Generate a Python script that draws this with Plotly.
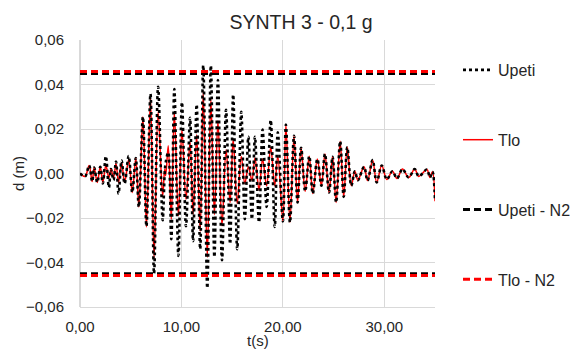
import plotly.graph_objects as go

# time (s) of read extrema
t = [0.0, 0.5, 0.9, 1.2, 1.4, 1.7, 2.0, 2.25, 2.55, 2.85, 3.05, 3.3, 3.55, 3.8, 4.1, 4.4,
     4.8, 5.15, 5.5, 5.8, 6.2, 6.55, 6.95, 7.3, 7.7, 8.15, 8.35, 8.45, 8.7, 9.0, 9.3,
     9.7, 10.05, 10.45, 10.85, 11.15, 11.5, 11.85, 12.15, 12.55, 12.9, 13.25, 13.6,
     14.0, 14.4, 14.8, 15.1, 15.5, 15.9, 16.25, 16.6, 16.95, 17.25, 17.65, 18.0, 18.4,
     18.8, 19.2, 19.5, 20.0, 20.3, 20.7, 21.1, 21.45, 21.8, 22.2, 22.6, 22.95, 23.4,
     23.8, 24.15, 24.55, 24.9, 25.25, 25.65, 26.0, 26.35, 26.75, 27.1, 27.4, 28.0,
     28.35, 28.85, 29.25, 29.75, 30.25, 30.8, 31.25, 31.8, 32.4, 33.0, 33.4, 34.2,
     34.5, 34.75, 35.0]

tlo = [0, -0.0013, 0.0036, -0.0036, 0.0027, -0.004, 0.003, -0.004, 0.0036, -0.002,
       0.002, -0.002, 0.0045, -0.004, 0.005, -0.004, 0.0063, -0.0085, 0.007, -0.015,
       0.0255, -0.024, 0.034, -0.038, 0.0277, -0.0103, 0.002, -0.001, 0.0125, -0.0206,
       0.0277, -0.019, 0.0197, -0.0116, 0.0143, -0.0183, 0.0174, -0.026, 0.0367,
       -0.0376, 0.0335, -0.0185, 0.0237, -0.0235, 0.0107, -0.013, 0.0155, -0.0135,
       0.0076, -0.0045, 0.003, -0.003, 0.007, -0.0075, 0.0065, -0.0055, 0.0118, -0.0055,
       0.008, -0.0215, 0.022, -0.022, 0.017, -0.013, 0.0116, -0.008, 0.0078, -0.009,
       0.0065, -0.0055, 0.0088, -0.0085, 0.0075, -0.013, 0.0145, -0.0105, 0.0118,
       -0.0055, 0.001, -0.003, 0.003, -0.0032, 0.006, -0.004, 0.0036, -0.0027, 0.001,
       -0.0022, 0.002, -0.0018, 0.002, -0.0013, 0.0018, -0.0018, 0.0008, -0.0125]

upeti = [0, -0.0013, 0.0036, -0.0036, 0.0027, -0.004, 0.003, -0.0045, 0.0078, -0.0063,
         0.002, -0.003, 0.0054, -0.009, 0.0058, -0.0045, 0.0078, -0.0085, 0.007, -0.015,
         0.0255, -0.0237, 0.0358, -0.045, 0.039, -0.021, 0.0, 0.005, 0.0095, -0.0295,
         0.038, -0.037, 0.032, -0.0237, 0.025, -0.0304, 0.031, -0.034, 0.0487, -0.0515,
         0.0485, -0.0375, 0.042, -0.039, 0.0286, -0.0317, 0.0355, -0.034, 0.0277,
         -0.0205, 0.0165, -0.0205, 0.0165, -0.022, 0.0197, -0.015, 0.024, -0.024, 0.0185,
         -0.0215, 0.022, -0.022, 0.017, -0.013, 0.0116, -0.008, 0.0078, -0.009, 0.0065,
         -0.0055, 0.0088, -0.0085, 0.0075, -0.013, 0.0145, -0.0105, 0.0118, -0.0055,
         0.001, -0.003, 0.003, -0.0032, 0.006, -0.004, 0.0036, -0.0027, 0.001, -0.0022,
         0.002, -0.0018, 0.002, -0.0013, 0.0018, -0.0018, 0.0008, -0.0125]

n2_t = [0, 35]
upeti_n2 = [0.0450, -0.0450]
tlo_n2 = [0.0458, -0.0458]

FONT = "Liberation Sans, Arial, sans-serif"
TXT = "#262626"
OFF = 8  # default page body margin
W, H = 582 - OFF, 349 - OFF
L, T = 80 - OFF, 40 - OFF
R = W - (435 - OFF)
B = H - (307 - OFF)
PW, PH = W - L - R, H - T - B


def px(xp):
    return (xp - OFF - L) / PW


def py(yp):
    return 1 - (yp - OFF - T) / PH


fig = go.Figure()
fig.add_trace(go.Scatter(x=t, y=tlo, mode="lines", name="Tlo", legendrank=2,
                         legendgroup="b", line=dict(color="#FF0000", width=1.5, shape="spline")))
fig.add_trace(go.Scatter(x=t, y=upeti, mode="lines", name="Upeti", legendrank=1,
                         legendgroup="a", line=dict(color="#000000", width=2.6, dash="dot", shape="spline")))
for v, nm, col, rk, g in [(upeti_n2, "Upeti - N2", "#000000", 3, "c"),
                          (tlo_n2, "Tlo - N2", "#FF0000", 4, "d")]:
    for k, yv in enumerate(v):
        fig.add_trace(go.Scatter(x=n2_t, y=[yv, yv], mode="lines", name=nm, legendrank=rk,
                                 legendgroup=g, showlegend=(k == 0),
                                 line=dict(color=col, width=3, dash="7px,4px")))

fig.update_layout(
    width=W, height=H,
    margin=dict(l=L, r=R, t=T, b=B, autoexpand=False),
    paper_bgcolor="white", plot_bgcolor="white",
    separators=",.",
    font=dict(family=FONT, size=15, color=TXT),
    title=dict(text="SYNTH 3 - 0,1 g", x=(301 - OFF) / W, xref="container", xanchor="center",
               y=1 - (22 - OFF) / H, yref="container", yanchor="middle",
               font=dict(size=19.5, color=TXT)),
    legend=dict(x=px(458), y=py(53), xanchor="left", yanchor="top",
                tracegroupgap=46, font=dict(size=16, color=TXT), bgcolor="rgba(0,0,0,0)"),
    showlegend=True,
    annotations=[
        dict(text="d (m)", textangle=-90, xref="paper", yref="paper",
             x=px(18), y=py(174), showarrow=False,
             xanchor="center", yanchor="middle", font=dict(size=15, color=TXT)),
        dict(text="t(s)", xref="paper", yref="paper",
             x=px(258), y=py(340), showarrow=False,
             xanchor="center", yanchor="middle", font=dict(size=15, color=TXT)),
    ],
)
fig.update_xaxes(range=[0, 35], dtick=10, tick0=0, tickformat=".2f", showgrid=True,
                 gridcolor="#d9d9d9", gridwidth=1, zeroline=True, zerolinecolor="#d9d9d9",
                 showline=True, linecolor="#d9d9d9", ticks="outside", ticklen=6,
                 tickcolor="rgba(0,0,0,0)", automargin=False)
fig.update_yaxes(range=[-0.06, 0.06], dtick=0.02, tickformat=".2f", showgrid=True,
                 gridcolor="#d9d9d9", gridwidth=1, zeroline=False, showline=False,
                 ticks="outside", ticklen=12, tickcolor="rgba(0,0,0,0)", automargin=False)

fig.write_html("out.html")
